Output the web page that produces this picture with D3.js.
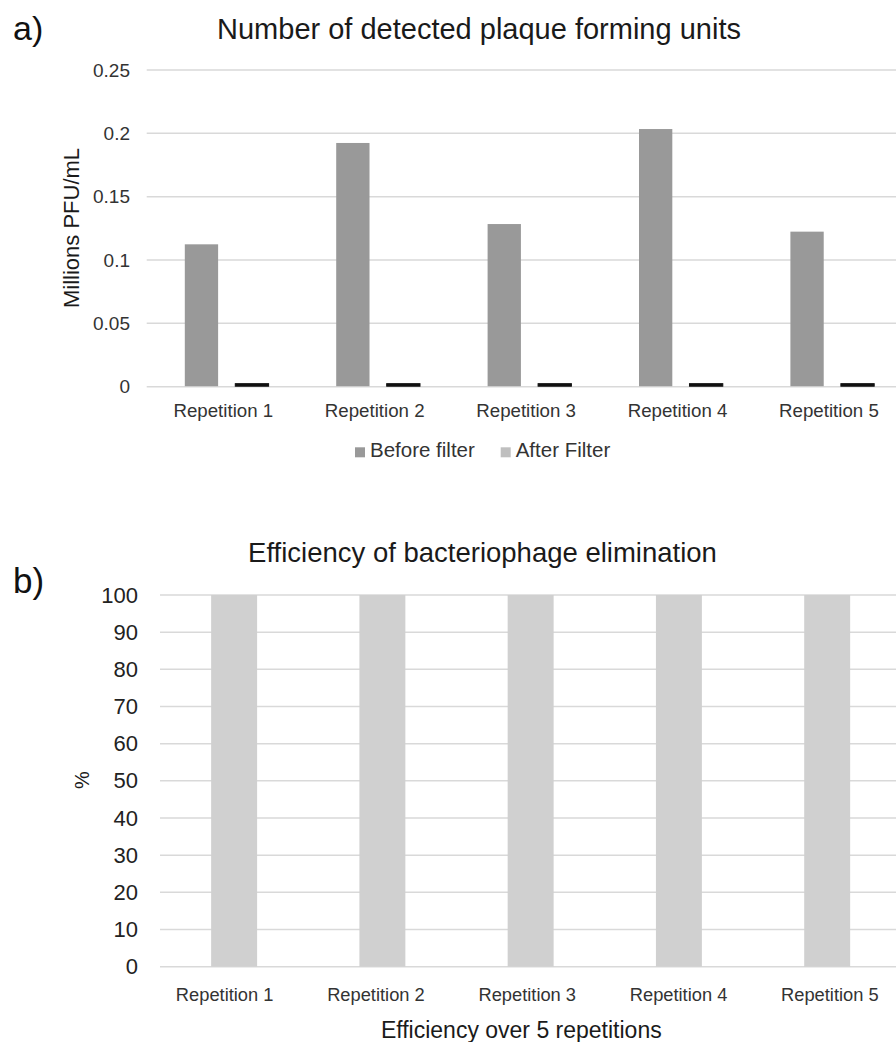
<!DOCTYPE html>
<html>
<head>
<meta charset="utf-8">
<script src="https://cdn.jsdelivr.net/npm/d3@7/dist/d3.min.js"></script>
<style>
  html, body { margin: 0; padding: 0; background: #fff; }
  svg { display: block; font-family: "Liberation Sans", Arial, sans-serif; }
</style>
</head>
<body>
<svg id="chart" width="896" height="1042"></svg>
<script>
// ---------- data ----------
const categories = ["Repetition 1", "Repetition 2", "Repetition 3", "Repetition 4", "Repetition 5"];
const seriesNames = ["Before filter", "After Filter"];
const beforeFilter = [0.112, 0.192, 0.128, 0.203, 0.122];
const afterFilter = [0.002, 0.002, 0.002, 0.002, 0.002];
const efficiency = [100, 100, 100, 100, 100];
const ticksA = [0, 0.05, 0.1, 0.15, 0.2, 0.25];
const tickLabelsA = ["0", "0.05", "0.1", "0.15", "0.2", "0.25"];
const ticksB = [0, 10, 20, 30, 40, 50, 60, 70, 80, 90, 100];

const svg = d3.select("#chart");
const gridColor = "#d9d9d9";
const textColor = "#333333";

// ================= Chart a =================
const yA = d3.scaleLinear().domain([0, 0.25]).range([386.7, 70]);
const xBarsA = d3.scaleBand().domain(categories).range([151, 908]);
const xLabA = d3.scaleBand().domain(categories).range([147.6, 904.6]);
const inner = d3.scaleBand().domain(seriesNames)
  .range([33.8, xBarsA.bandwidth() - 33.8]).paddingInner(0.34);
const colorA = d3.scaleOrdinal().domain(seriesNames).range(["#999999", "#bfbfbf"]);

// panel label and title
svg.append("text").attr("x", 13).attr("y", 40).attr("font-size", 34).attr("fill", "#111").text("a)");
svg.append("text").attr("x", 479).attr("y", 38.5).attr("text-anchor", "middle")
  .attr("font-size", 29).attr("fill", "#1a1a1a").text("Number of detected plaque forming units");

// gridlines
svg.append("g").selectAll("line").data(ticksA).join("line")
  .attr("x1", 146.7).attr("x2", 896)
  .attr("y1", d => yA(d)).attr("y2", d => yA(d))
  .attr("stroke", gridColor).attr("stroke-width", 1.5);

// y axis labels
const gyA = svg.append("g").attr("transform", "translate(130,0)")
  .call(d3.axisLeft(yA).tickValues(ticksA).tickSize(0).tickPadding(0)
    .tickFormat((d, i) => tickLabelsA[i]));
gyA.select(".domain").remove();
gyA.selectAll("text").attr("font-size", 19).attr("fill", textColor)
  .attr("font-family", "Liberation Sans, Arial, sans-serif");

// y axis title
svg.append("text").attr("transform", "translate(79,228) rotate(-90)")
  .attr("text-anchor", "middle").attr("font-size", 22).attr("fill", "#1a1a1a")
  .text("Millions PFU/mL");

// bars
const tableA = categories.map((c, i) => ({ cat: c, values: [
  { s: seriesNames[0], v: beforeFilter[i] },
  { s: seriesNames[1], v: afterFilter[i] } ] }));

const groupsA = svg.append("g").selectAll("g").data(tableA).join("g")
  .attr("transform", d => `translate(${xBarsA(d.cat)},0)`);
groupsA.selectAll("rect").data(d => d.values).join("rect")
  .attr("x", d => inner(d.s))
  .attr("width", inner.bandwidth())
  .attr("y", d => yA(d.v) - 0.5)
  .attr("height", d => yA(0) - yA(d.v))
  .attr("fill", d => d.s === seriesNames[1] ? "#111" : colorA(d.s))
  .attr("stroke", d => d.s === seriesNames[1] ? "#111" : "none")
  .attr("stroke-width", 1);

// x axis labels
const gxA = svg.append("g").attr("transform", `translate(0,${yA(0)})`)
  .call(d3.axisBottom(xLabA).tickSize(0));
gxA.select(".domain").remove();
gxA.selectAll("text").attr("y", 30.6).attr("dy", 0).attr("font-size", 18.7)
  .attr("fill", textColor).attr("font-family", "Liberation Sans, Arial, sans-serif");

// legend
const legendX = [355, 500.7];
const legA = svg.append("g").selectAll("g").data(seriesNames).join("g")
  .attr("transform", (d, i) => `translate(${legendX[i]},447.3)`);
legA.append("rect").attr("width", 10).attr("height", 10).attr("fill", d => colorA(d));
legA.append("text").attr("x", 15).attr("y", 10).attr("font-size", 20.5)
  .attr("fill", textColor).text(d => d);

// ================= Chart b =================
const yB = d3.scaleLinear().domain([0, 100]).range([966.7, 595]);
const xBarsB = d3.scaleBand().domain(categories).range([160, 901.3])
  .paddingInner(0.69).paddingOuter(0.345);
const xLabB = d3.scaleBand().domain(categories).range([149, 905.5]);

svg.append("text").attr("x", 13).attr("y", 592.5).attr("font-size", 35).attr("fill", "#111").text("b)");
svg.append("text").attr("x", 482.5).attr("y", 561.5).attr("text-anchor", "middle")
  .attr("font-size", 27.5).attr("fill", "#1a1a1a").text("Efficiency of bacteriophage elimination");

svg.append("g").selectAll("line").data(ticksB).join("line")
  .attr("x1", 160).attr("x2", 896)
  .attr("y1", d => yB(d)).attr("y2", d => yB(d))
  .attr("stroke", gridColor).attr("stroke-width", 1.5);

const gyB = svg.append("g").attr("transform", "translate(138,0)")
  .call(d3.axisLeft(yB).tickValues(ticksB).tickSize(0).tickPadding(0));
gyB.select(".domain").remove();
gyB.selectAll("text").attr("font-size", 22).attr("fill", "#222")
  .attr("font-family", "Liberation Sans, Arial, sans-serif");

svg.append("text").attr("transform", "translate(89,780) rotate(-90)")
  .attr("text-anchor", "middle").attr("font-size", 20).attr("fill", "#1a1a1a").text("%");

svg.append("g").selectAll("rect").data(categories).join("rect")
  .attr("x", d => xBarsB(d))
  .attr("width", xBarsB.bandwidth())
  .attr("y", (d, i) => yB(efficiency[i]))
  .attr("height", (d, i) => yB(0) - yB(efficiency[i]))
  .attr("fill", "#d0d0d0");

const gxB = svg.append("g").attr("transform", `translate(0,${yB(0)})`)
  .call(d3.axisBottom(xLabB).tickSize(0));
gxB.select(".domain").remove();
gxB.selectAll("text").attr("y", 34.5).attr("dy", 0).attr("font-size", 18.3)
  .attr("fill", textColor).attr("font-family", "Liberation Sans, Arial, sans-serif");

svg.append("text").attr("x", 521.3).attr("y", 1038).attr("text-anchor", "middle")
  .attr("font-size", 23).attr("fill", "#1a1a1a").text("Efficiency over 5 repetitions");
</script>
</body>
</html>
